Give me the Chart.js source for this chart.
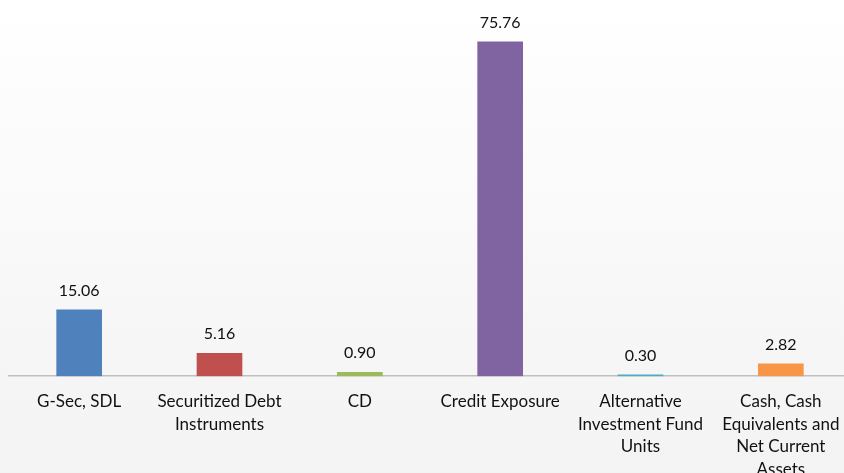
<!DOCTYPE html>
<html>
<head>
<meta charset="utf-8">
<script src="https://cdn.jsdelivr.net/npm/chart.js@4/dist/chart.umd.min.js"></script>
<style>
    html, body { margin: 0; padding: 0; }
    body { width: 844px; height: 473px; overflow: hidden; background: linear-gradient(#ffffff, #f3f3f3); }
    #wrap { width: 844px; height: 473px; overflow: hidden; }
</style>
</head>
<body>
<div id="wrap"><canvas id="barChart" width="851" height="487"></canvas></div>
<script>
// データ
const categories = [
    "G-Sec, SDL",
    ["Securitized Debt", "Instruments"],
    "CD",
    "Credit Exposure",
    ["Alternative", "Investment Fund", "Units"],
    ["Cash, Cash", "Equivalents and", "Net Current", "Assets"],
];
const values = [15.06, 5.16, 0.90, 75.76, 0.30, 2.82];
const barColors = ["#4f81bd", "#c0504d", "#9bbb59", "#8064a2", "#4bacc6", "#f79646"];

// 棒の上に値を描く
const valueLabels = {
    id: "valueLabels",
    afterDatasetsDraw(chart) {
        const ctx = chart.ctx;
        const meta = chart.getDatasetMeta(0);
        ctx.save();
        ctx.font = "16px Lato";
        ctx.fillStyle = "#111111";
        ctx.textAlign = "center";
        ctx.textBaseline = "alphabetic";
        meta.data.forEach((bar, i) => {
            ctx.fillText(values[i].toFixed(2), bar.x, bar.y - 14);
        });
        ctx.restore();
    },
};

new Chart(document.getElementById("barChart"), {
    type: "bar",
    data: {
        labels: categories,
        datasets: [{
            data: values,
            backgroundColor: barColors,
            barThickness: 45,
        }],
    },
    options: {
        responsive: false,
        animation: false,
        layout: { padding: { left: 9, right: 0, top: 23, bottom: 0 } },
        plugins: { legend: { display: false }, tooltip: { enabled: false } },
        scales: {
            x: {
                grid: { display: false },
                border: { display: true, color: "#bfbfbf", width: 1.5 },
                ticks: {
                    autoSkip: false,
                    maxRotation: 0,
                    padding: 6,
                    color: "#111111",
                    font: { family: "Lato", size: 17, lineHeight: 1.335 },
                },
            },
            y: { display: false, min: 0, max: 80 },
        },
    },
    plugins: [valueLabels],
});
</script>
</body>
</html>
